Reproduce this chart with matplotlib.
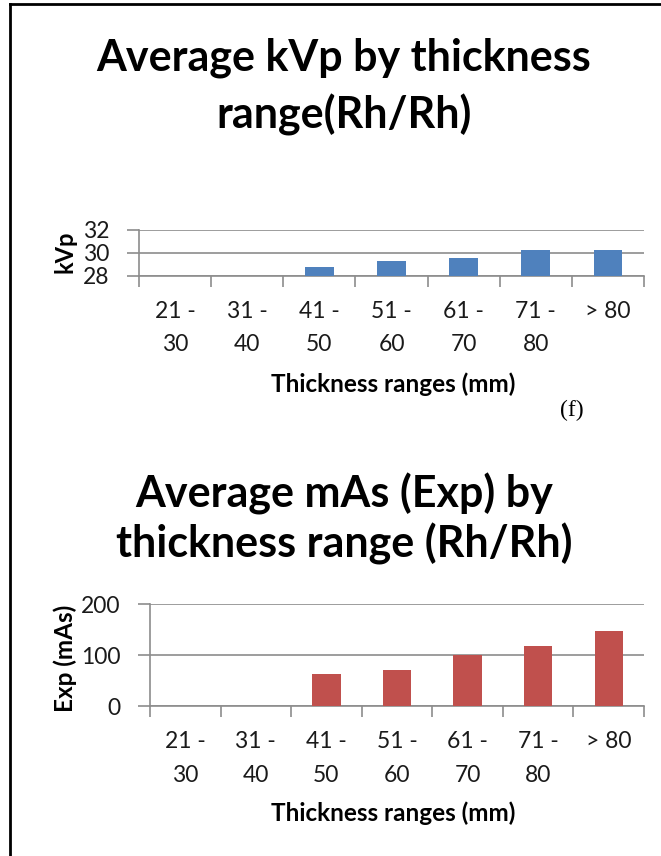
import numpy as np
import matplotlib
matplotlib.use("Agg")
import matplotlib.pyplot as plt
from matplotlib.lines import Line2D

# data
categories = ["21 -\n30", "31 -\n40", "41 -\n50", "51 -\n60", "61 -\n70", "71 -\n80", "> 80"]
kvp = [np.nan, np.nan, 28.8, 29.3, 29.5, 30.2, 30.2]
mas = [np.nan, np.nan, 64, 72, 100, 118, 147]

plt.rcParams["font.family"] = ["Lato", "DejaVu Sans"]

W, H = 661, 856
fig = plt.figure(figsize=(W / 100, H / 100), dpi=100)

def px_axes(x0, x1, ytop, ybot):
    return fig.add_axes([x0 / W, 1 - ybot / H, (x1 - x0) / W, (ybot - ytop) / H])

def ftext(x, y, s, **kw):
    return fig.text(x / W, 1 - y / H, s, ha="center", va="center", **kw)

grid_c = "#8c8c8c"
text_c = "#1a1a1a"

def style(ax, vals, color, ylim, yticks):
    x = np.arange(len(categories))
    ax.bar(x, vals, width=0.4, color=color, zorder=3)
    ax.set_xlim(-0.5, len(categories) - 0.5)
    ax.set_ylim(*ylim)
    ax.set_yticks(yticks)
    ax.yaxis.grid(True, color=grid_c, linewidth=1.2, zorder=0)
    for s in ["top", "right"]:
        ax.spines[s].set_visible(False)
    for s in ["left", "bottom"]:
        ax.spines[s].set_color(grid_c)
        ax.spines[s].set_linewidth(1.2)
    # category boundaries carry the tick marks, centres carry the labels
    ax.set_xticks(np.arange(-0.5, len(categories)), minor=False)
    ax.set_xticklabels([])
    ax.set_xticks(x, minor=True)
    ax.set_xticklabels(categories, minor=True, fontsize=16.5, color=text_c,
                       linespacing=1.75)
    ax.tick_params(axis="x", which="major", length=8, width=1.2, color=grid_c)
    ax.tick_params(axis="x", which="minor", length=0, pad=18)
    ax.tick_params(axis="y", length=9, width=1.2, color=grid_c,
                   labelsize=16.5, labelcolor=text_c, pad=12)

# top chart
ax1 = px_axes(139, 644, 229.7, 275.7)
style(ax1, kvp, "#4F81BD", (28, 32), [28, 30, 32])
ftext(65, 252, "kVp", rotation=90, fontsize=17, fontweight="bold")
ftext(393, 384, "Thickness ranges (mm)", fontsize=17.5, fontweight="bold")
ftext(344, 58, "Average kVp by thickness", fontsize=31, fontweight="bold")
ftext(344, 115, "range(Rh/Rh)", fontsize=31, fontweight="bold")

ftext(572, 410, "(f)", fontsize=17, family="Liberation Serif")

# bottom chart
ax2 = px_axes(150, 644, 604.3, 706.3)
style(ax2, mas, "#C0504D", (0, 200), [0, 100, 200])
ftext(65, 658, "Exp (mAs)", rotation=90, fontsize=17.5, fontweight="bold")
ftext(393, 813, "Thickness ranges (mm)", fontsize=17.5, fontweight="bold")
ftext(344, 494, "Average mAs (Exp) by", fontsize=31, fontweight="bold")
ftext(344, 544, "thickness range (Rh/Rh)", fontsize=31, fontweight="bold")

# frame of the panel: left and top edges
fig.add_artist(Line2D([10 / W, 10 / W], [0, 1 - 4 / H], color="black", linewidth=2))
fig.add_artist(Line2D([10 / W, 1], [1 - 4 / H, 1 - 4 / H], color="black", linewidth=2))

fig.savefig("out.png", dpi=100)
